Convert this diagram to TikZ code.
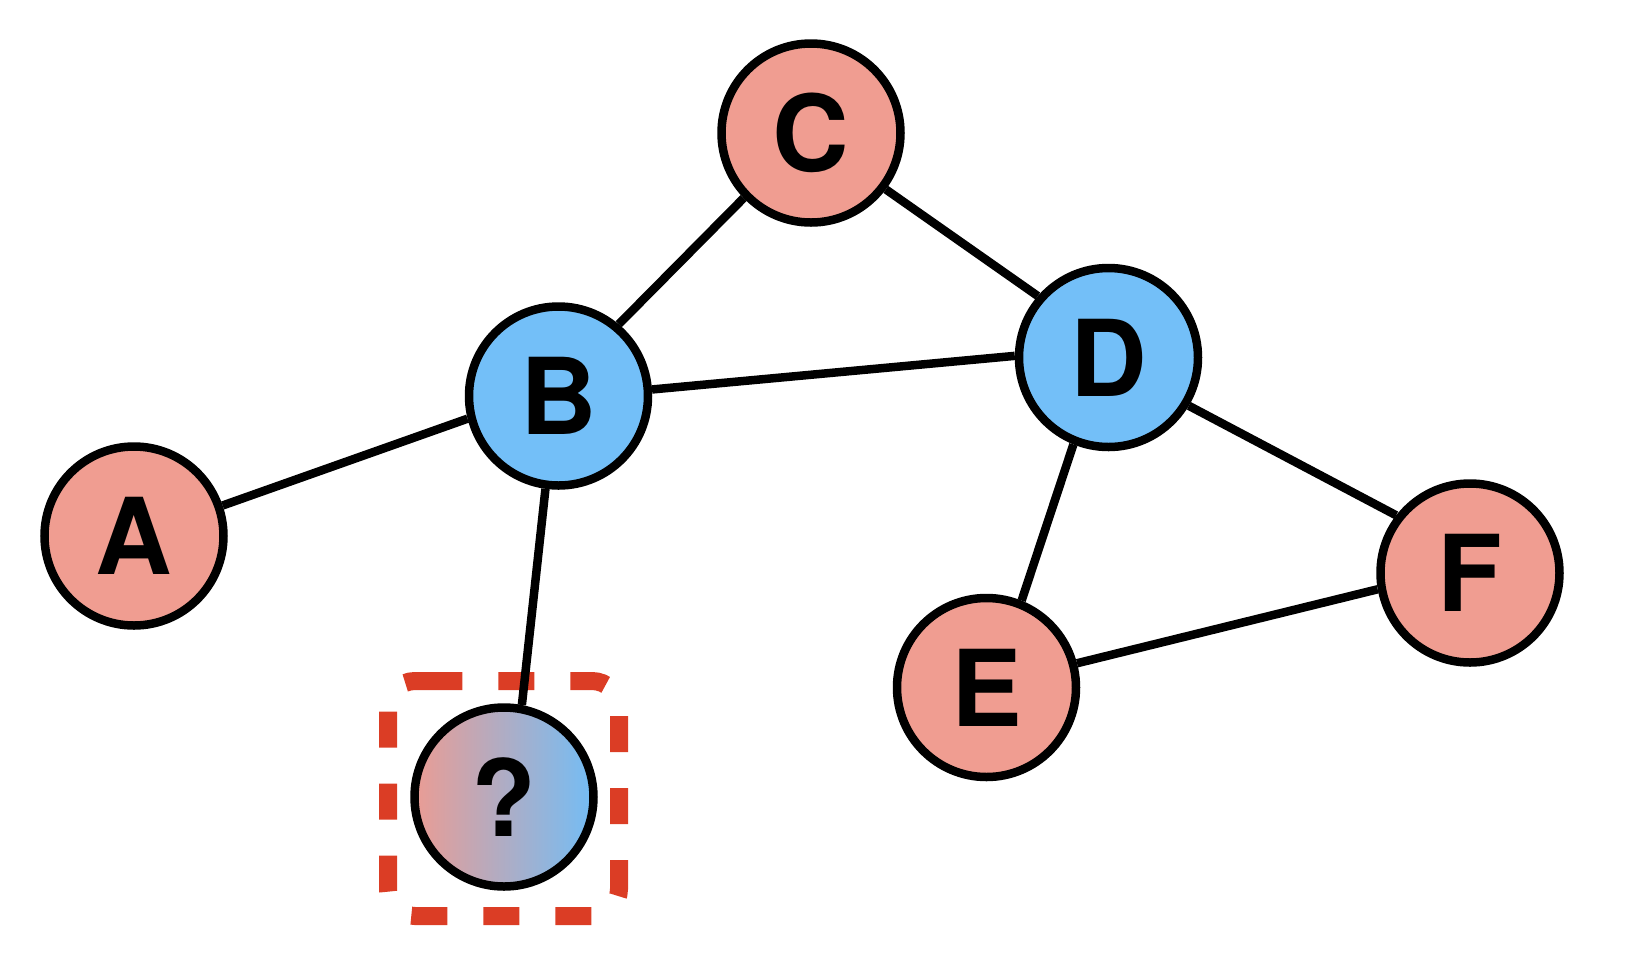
\documentclass[tikz,border=0pt]{standalone}
\usepackage{fontspec}
\setmainfont{TeX Gyre Heros}
\definecolor{nodepink}{RGB}{240,157,145}
\definecolor{nodeblue}{RGB}{115,191,248}
\definecolor{gradpink}{RGB}{234,156,148}
\definecolor{gradblue}{RGB}{115,189,245}
\definecolor{boxred}{RGB}{219,61,37}
\tikzset{
  graphnode/.style={circle, draw=black, line width=4.25pt, minimum size=89.5pt, inner sep=0pt,
    font=\fontsize{53}{53}\selectfont\bfseries},
  pinknode/.style={graphnode, fill=nodepink},
  bluenode/.style={graphnode, fill=nodeblue},
  mixnode/.style={graphnode, left color=gradpink, right color=gradblue},
  edge/.style={draw=black, line width=4.25pt},
  querybox/.style={draw=boxred, line width=9pt, dash pattern=on 18pt off 18pt, rounded corners=13.5pt}
}
\begin{document}
\begin{tikzpicture}[x=0.5pt, y=-0.5pt]
\useasboundingbox (0,0) rectangle (1646,966);
% dashed query box
\coordinate (qs) at (468,681);
\coordinate (qtl) at (388,681);
\coordinate (qbl) at (388,916);
\coordinate (qbr) at (619,916);
\coordinate (qtr) at (619,681);
\draw[querybox] (qs) -- (qtl) -- (qbl) -- (qbr) -- (qtr) -- cycle;
% nodes
\node[pinknode] (A) at (134,536) {A};
\node[bluenode] (B) at (558.5,396) {B};
\node[pinknode] (C) at (811,133) {C};
\node[bluenode] (D) at (1108.5,357.5) {D};
\node[pinknode] (E) at (986.5,687.5) {E};
\node[pinknode] (F) at (1470,573) {F};
\node[mixnode] (Q) at (504,797) {?};
% edges
\draw[edge] (A.19.5) -- (B.194.7);
\draw[edge] (B.50.6) -- (C.224.7);
\draw[edge] (C.-37.4) -- (D.139.7);
\draw[edge] (B.4.9) -- (D.179.5);
\draw[edge] (D.248.5) -- (E.68.1);
\draw[edge] (D.-31.7) -- (F.142.9);
\draw[edge] (E.15) -- (F.190.5);
\draw[edge] (B.262) -- (Q.79.2);
\end{tikzpicture}
\end{document}
